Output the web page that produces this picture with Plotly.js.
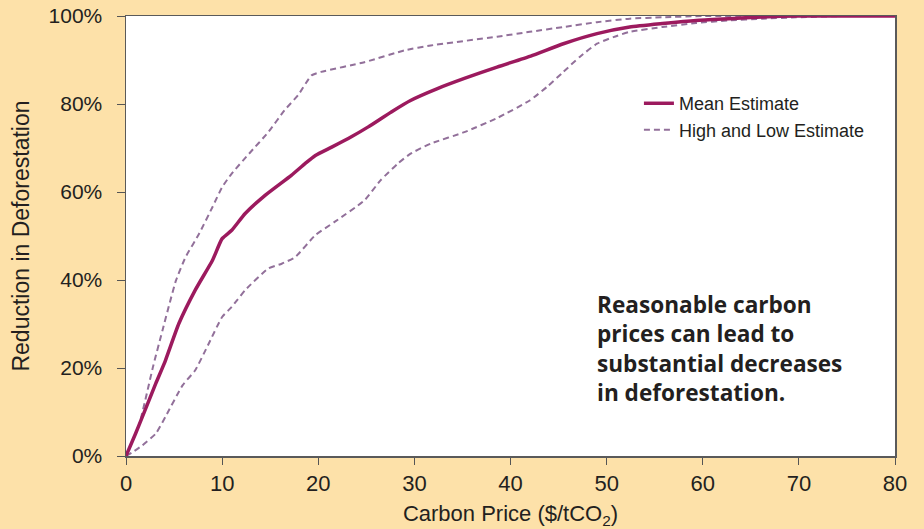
<!DOCTYPE html>
<html>
<head>
<meta charset="utf-8">
<script src="https://cdn.plot.ly/plotly-3.0.1.min.js"></script>
<style>html,body{margin:0;padding:0;background:#FDE1A9;}#chart{width:924px;height:529px;}</style>
</head>
<body>
<div id="chart"></div>
<script>
// Carbon price ($/tCO2) and reduction in deforestation (%)
const meanX = [0,1,1.7,3.1,4.1,5.5,7.2,9,10,11,12.4,14.5,17.2,18.6,19.7,21.4,23.4,25.2,27.6,29.6,32.4,35.2,38.6,42.1,45.5,49,52.4,55.8,59.3,62.7,66.2,70,75,80];
const meanY = [0,5.1,8.9,16.5,21.7,30.1,37.7,44.5,49.4,51.3,55.1,59.3,63.8,66.4,68.3,70.2,72.5,74.8,78.2,80.8,83.5,85.8,88.4,90.9,93.7,96,97.5,98.3,99,99.4,99.8,100,100,100];

const highX = [0,1.4,2.8,3.8,5.2,6.2,7.6,9,10,11,12.8,14.8,16.5,17.9,19.3,20.3,24.8,29,31.7,38.6,42,45.5,49,52.4,55.8,60,70,80];
const highY = [0,7.4,20.2,28.6,39.9,45.2,50.5,56.6,61.1,64.2,68.7,73.6,78.6,82,86.5,87.3,89.5,92.2,93.3,95.3,96.4,97.5,98.6,99.4,99.7,100,100,100];

const lowX = [0,0.7,1.7,3.1,4.1,5.9,7.2,8.6,10,11,12.4,14.8,16.2,17.6,19.7,21.7,24.8,26.5,28.3,29.6,31.7,35.2,38.6,42,43.8,45.5,47.2,49,50.7,52.4,55.8,59.3,62.7,66.2,69.7,75,80];
const lowY = [0,0.9,2.4,5.1,8.9,16.1,19.5,25.5,31.6,33.9,37.7,42.6,43.7,45.2,50.2,53.2,58.1,62.7,66.5,68.7,71,73.6,76.8,80.8,83.9,87.3,90.7,93.7,95.2,96.4,97.5,98.4,99,99.4,99.7,100,100];

const xTicks = [0,10,20,30,40,50,60,70,80];
const yTicks = [0,20,40,60,80,100];
const yTickText = ['0%','20%','40%','60%','80%','100%'];

const seriesNames = ['Mean Estimate','High and Low Estimate'];
const noteText = 'Reasonable carbon<br>prices can lead to<br>substantial decreases<br>in deforestation.';

const meanColor = '#9C1A5E';
const rangeColor = '#92709A';
const textColor = '#231F20';

const traces = [
  {x: highX, y: highY, mode:'lines', name: seriesNames[1], legendgroup:'hl', showlegend:true,
   line:{color: rangeColor, width:2, dash:'6px,4px', shape:'spline', smoothing:0.5}},
  {x: lowX, y: lowY, mode:'lines', name: seriesNames[1], legendgroup:'hl', showlegend:false,
   line:{color: rangeColor, width:2, dash:'6px,4px', shape:'spline', smoothing:0.5}},
  {x: meanX, y: meanY, mode:'lines', name: seriesNames[0], showlegend:true,
   line:{color: meanColor, width:3.5, shape:'spline', smoothing:0.5}}
];

const layout = {
  width:924, height:529,
  paper_bgcolor:'#FDE1A9', plot_bgcolor:'#FFFFFF',
  margin:{l:126, r:29, t:16, b:73},
  font:{family:'Liberation Sans, Arial, sans-serif', color:textColor},
  showlegend:true,
  legend:{x:0.667, y:0.843, xanchor:'left', yanchor:'top', bgcolor:'rgba(0,0,0,0)',
          traceorder:'reversed', tracegroupgap:0, font:{size:18, color:textColor}},
  xaxis:{range:[0,80], tickvals:xTicks, ticks:'outside', ticklen:7, tickcolor:'#555',
         showgrid:false, zeroline:false, showline:true, linecolor:'#5a5a5a', linewidth:1.5, mirror:true,
         tickfont:{size:22, color:textColor}, automargin:false,
         title:{text:'Carbon Price ($/tCO<sub>2</sub>)', font:{size:22, color:textColor}, standoff:12}},
  yaxis:{range:[0,100], tickvals:yTicks, ticktext:yTickText, ticks:'outside', ticklen:8, tickcolor:'#555',
         ticklabelstandoff:10, automargin:false,
         showgrid:false, zeroline:false, showline:true, linecolor:'#5a5a5a', linewidth:1.5, mirror:true,
         tickfont:{size:21, color:textColor},
         title:{text:'Reduction in Deforestation', font:{size:23, color:textColor}, standoff:12}},
  annotations:[{x:48.8, y:38.4, xref:'x', yref:'y', xanchor:'left', yanchor:'top', align:'left',
                showarrow:false, text:'<b>'+noteText+'</b>',
                font:{family:'Open Sans, Noto Sans, sans-serif', size:22.6, color:textColor}}]
};

Plotly.newPlot('chart', traces, layout, {displayModeBar:false, staticPlot:true});
</script>
</body>
</html>
